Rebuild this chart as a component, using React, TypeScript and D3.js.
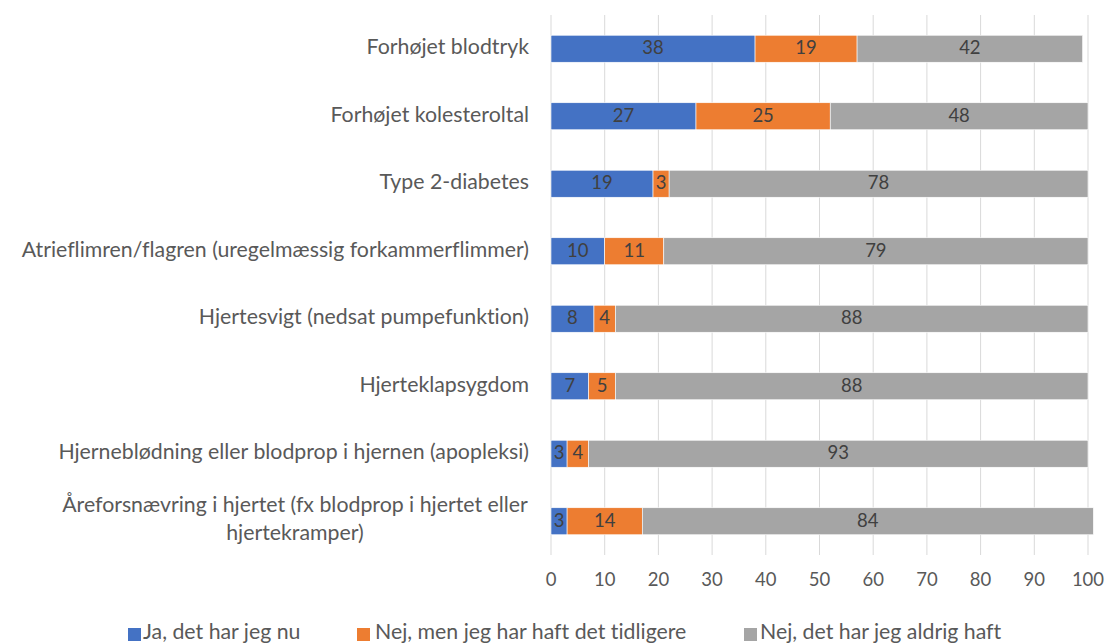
import React from "react";
import * as d3 from "d3";

const categories = [
  "Forhøjet blodtryk",
  "Forhøjet kolesteroltal",
  "Type 2-diabetes",
  "Atrieflimren/flagren (uregelmæssig forkammerflimmer)",
  "Hjertesvigt (nedsat pumpefunktion)",
  "Hjerteklapsygdom",
  "Hjerneblødning eller blodprop i hjernen (apopleksi)",
  "Åreforsnævring i hjertet (fx blodprop i hjertet eller hjertekramper)",
];

const seriesNames = [
  "Ja, det har jeg nu",
  "Nej, men jeg har haft det tidligere",
  "Nej, det har jeg aldrig haft",
];

const jaNu = [38, 27, 19, 10, 8, 7, 3, 3];
const tidligere = [19, 25, 3, 11, 4, 5, 4, 14];
const aldrig = [42, 48, 78, 79, 88, 88, 93, 84];

const xTicks = [0, 10, 20, 30, 40, 50, 60, 70, 80, 90, 100];

const colors = ["#4472C4", "#ED7D31", "#A5A5A5"];

const W = 1107;
const H = 644;
const FONT = "Lato, 'Open Sans', sans-serif";
const TEXT_SIZE = 21.3;
const NUM_SIZE = 18.5;

function wrap(text: string, maxChars: number): string[] {
  const words = text.split(" ");
  const lines: string[] = [];
  let cur = "";
  for (const w of words) {
    const next = cur ? cur + " " + w : w;
    if (next.length > maxChars && cur) {
      lines.push(cur);
      cur = w;
    } else cur = next;
  }
  if (cur) lines.push(cur);
  return lines;
}

export default function App() {
  const x = d3.scaleLinear().domain([0, 100]).range([551, 1088]);
  const y = d3
    .scaleBand<string>()
    .domain(categories)
    .range([15, 555])
    .paddingInner(0.6)
    .paddingOuter(0.3);

  const rows = categories.map((c, i) => ({
    cat: c,
    vals: [jaNu[i], tidligere[i], aldrig[i]],
  }));

  const legendItems = [
    { sq: 128, tx: 143 },
    { sq: 357, tx: 375 },
    { sq: 744, tx: 760 },
  ];

  return (
    <svg
      width={W}
      height={H}
      style={{
        position: "absolute",
        left: 0,
        top: 0,
        background: "#fff",
        fontVariantLigatures: "none",
      }}
      fontFamily={FONT}
    >
      {xTicks.map((t) => (
        <g key={t}>
          <line
            x1={x(t)}
            x2={x(t)}
            y1={15}
            y2={555}
            stroke="#D9D9D9"
            strokeWidth={1}
          />
          <text
            x={x(t)}
            y={581}
            textAnchor="middle"
            dominantBaseline="middle"
            fontSize={NUM_SIZE}
            fill="#595959"
          >
            {t}
          </text>
        </g>
      ))}

      {rows.map((r) => {
        let acc = 0;
        const yy = y(r.cat)!;
        const bw = y.bandwidth();
        return (
          <g key={r.cat}>
            {r.vals.map((v, j) => {
              const x0 = x(acc);
              const x1 = x(acc + v);
              acc += v;
              return (
                <g key={j}>
                  <rect
                    x={x0}
                    y={yy}
                    width={x1 - x0}
                    height={bw}
                    fill={colors[j]}
                    stroke="#fff"
                    strokeWidth={0.6}
                  />
                  <text
                    x={(x0 + x1) / 2}
                    y={yy + bw / 2 + 1}
                    textAnchor="middle"
                    dominantBaseline="middle"
                    fontSize={NUM_SIZE}
                    fill="#404040"
                  >
                    {v}
                  </text>
                </g>
              );
            })}
          </g>
        );
      })}

      {categories.map((c) => {
        const lines = wrap(c, 54);
        const cy = y(c)! + y.bandwidth() / 2;
        if (lines.length === 1) {
          return (
            <text
              key={c}
              x={529}
              y={cy}
              textAnchor="end"
              dominantBaseline="middle"
              fontSize={TEXT_SIZE}
              fill="#595959"
            >
              {c}
            </text>
          );
        }
        const lh = 28;
        return (
          <text
            key={c}
            textAnchor="middle"
            dominantBaseline="middle"
            fontSize={TEXT_SIZE}
            fill="#595959"
          >
            {lines.map((l, k) => (
              <tspan
                key={k}
                x={295}
                y={cy + (k - (lines.length - 1) / 2) * lh}
              >
                {l}
              </tspan>
            ))}
          </text>
        );
      })}

      {seriesNames.map((s, i) => (
        <g key={s}>
          <rect
            x={legendItems[i].sq}
            y={628}
            width={13}
            height={13}
            fill={colors[i]}
          />
          <text
            x={legendItems[i].tx}
            y={634}
            dominantBaseline="middle"
            fontSize={TEXT_SIZE}
            fill="#595959"
          >
            {s}
          </text>
        </g>
      ))}
    </svg>
  );
}
